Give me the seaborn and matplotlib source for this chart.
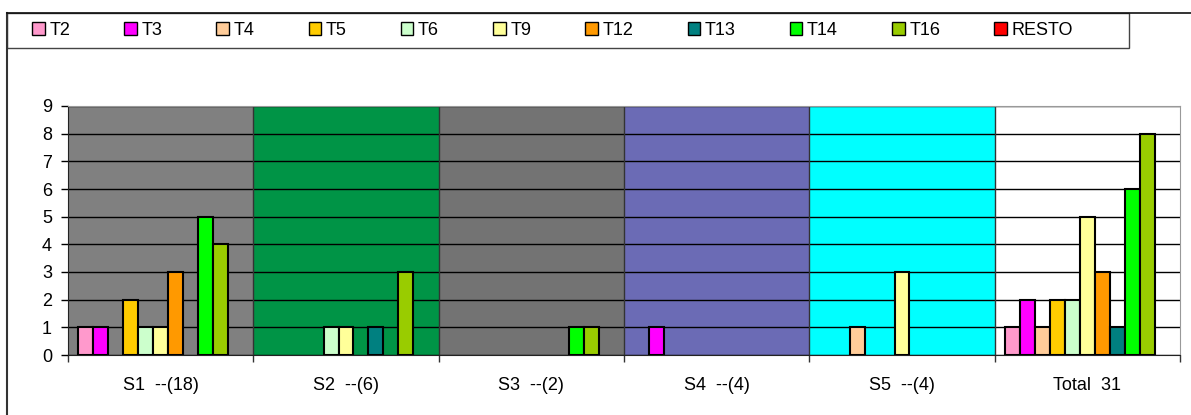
import numpy as np
import pandas as pd
import matplotlib
matplotlib.use("Agg")
import matplotlib.pyplot as plt
from matplotlib.lines import Line2D
from matplotlib.patches import Patch, Rectangle
import seaborn as sns

groups = ["S1  --(18)", "S2  --(6)", "S3  --(2)", "S4  --(4)", "S5  --(4)", "Total  31"]
series = ["T2", "T3", "T4", "T5", "T6", "T9", "T12", "T13", "T14", "T16", "RESTO"]
s1 = [1, 1, 0, 2, 1, 1, 3, 0, 5, 4, 0]
s2 = [0, 0, 0, 0, 1, 1, 0, 1, 0, 3, 0]
s3 = [0, 0, 0, 0, 0, 0, 0, 0, 1, 1, 0]
s4 = [0, 1, 0, 0, 0, 0, 0, 0, 0, 0, 0]
s5 = [0, 0, 1, 0, 0, 3, 0, 0, 0, 0, 0]
total = [1, 2, 1, 2, 2, 5, 3, 1, 6, 8, 0]

colors = ["#FF99CC", "#FF00FF", "#FFCC99", "#FFCC00", "#CCFFCC", "#FFFF99",
          "#FF9900", "#008080", "#00FF00", "#99CC00", "#FF0000"]
backgrounds = ["#808080", "#009446", "#737373", "#6B6BB5", "#00FFFF", "#FFFFFF"]

rows = []
for g, vals in zip(groups, [s1, s2, s3, s4, s5, total]):
    for s, v in zip(series, vals):
        if v > 0:
            rows.append({"grupo": g, "serie": s, "n": v})
df = pd.DataFrame(rows)
palette = dict(zip(series, colors))

plt.rcParams["font.family"] = ["Liberation Sans", "DejaVu Sans"]
W, H = 1191, 415
FS = 13

fig = plt.figure(figsize=(W / 100, H / 100), dpi=100)
ax = fig.add_axes([68 / W, 1 - 355 / H, 1112 / W, 249 / H])

# fondos de cada grupo
for i, c in enumerate(backgrounds):
    ax.axvspan(i - 0.5, i + 0.5, color=c, zorder=0, lw=0)
for b in np.arange(0.5, len(groups) - 1, 1):
    ax.axvline(b, color="#333333", lw=1, zorder=1)

sns.barplot(data=df, x="grupo", y="n", hue="serie", order=groups,
            hue_order=series, palette=palette, width=0.89, errorbar=None,
            edgecolor="black", linewidth=1.5, saturation=1, legend=False,
            ax=ax, zorder=3)

ax.set_xlim(-0.5, len(groups) - 0.5)
ax.set_ylim(0, 9)
ax.set_yticks(range(0, 10))
ax.yaxis.grid(True, color="black", lw=1, zorder=1)
ax.set_axisbelow(True)
ax.set_xlabel("")
ax.set_ylabel("")

ax.set_xticks(np.arange(-0.5, len(groups), 1), minor=True)
ax.tick_params(axis="x", which="major", length=0, pad=16, labelsize=FS)
ax.tick_params(axis="x", which="minor", length=5, width=1, color="#333333")
ax.tick_params(axis="y", length=5, width=1, pad=6.5, labelsize=FS)

ax.spines["top"].set_color("#999999")
ax.spines["right"].set_color("#999999")
ax.spines["left"].set_color("#222222")
ax.spines["bottom"].set_color("#222222")

# leyenda
handles = [Patch(facecolor=c, edgecolor="black", lw=1) for c in colors]
leg = fig.legend(handles, series, loc="center left", ncol=len(series),
                 bbox_to_anchor=(32 / W, 1 - 30.5 / H), frameon=False,
                 fontsize=FS, handlelength=0.7, handleheight=0.7,
                 handletextpad=0.25, columnspacing=3.0,
                 borderaxespad=0, borderpad=0)
fig.add_artist(Rectangle((7 / W, 1 - 48 / H), 1122 / W, 35 / H, fill=False,
                         edgecolor="#444444", lw=1, transform=fig.transFigure))

# marco exterior
fig.add_artist(Line2D([7 / W, 7 / W], [0, 1 - 13 / H], color="#333333", lw=1.5,
                      transform=fig.transFigure))
fig.add_artist(Line2D([7 / W, 1], [1 - 13 / H, 1 - 13 / H], color="#111111", lw=1.2,
                      transform=fig.transFigure))

fig.savefig("out.png", dpi=100)
